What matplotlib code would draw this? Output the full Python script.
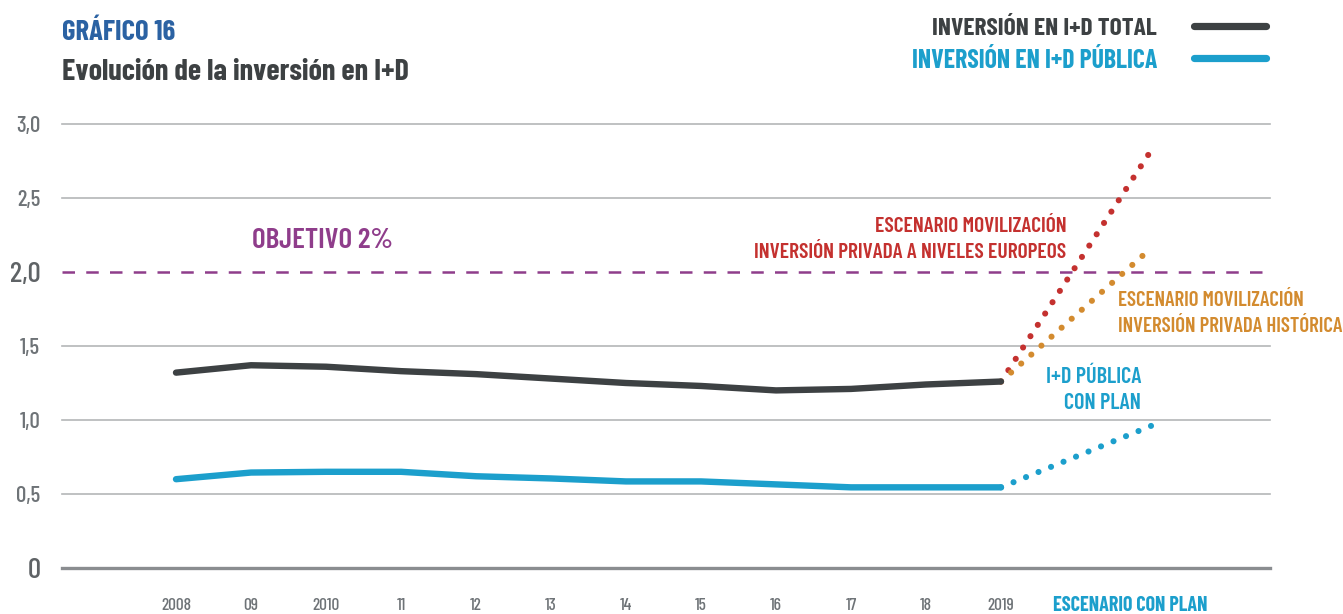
import matplotlib
matplotlib.use("Agg")
import matplotlib.pyplot as plt
from matplotlib.lines import Line2D

plt.rcParams['font.family'] = ['Barlow Condensed', 'DejaVu Sans']

years = [2008, 2009, 2010, 2011, 2012, 2013, 2014, 2015, 2016, 2017, 2018, 2019]
year_labels = ["2008", "09", "2010", "11", "12", "13", "14", "15", "16", "17", "18", "2019"]
total = [1.32, 1.37, 1.36, 1.33, 1.31, 1.28, 1.25, 1.23, 1.20, 1.21, 1.24, 1.26]
publica = [0.60, 0.645, 0.65, 0.65, 0.62, 0.605, 0.585, 0.585, 0.565, 0.545, 0.545, 0.545]

scen_years = [2019, 2021]
scen_europeos = [1.26, 2.82]
scen_historica = [1.26, 2.16]
scen_publica = [0.545, 0.96]

objetivo = 2.0
yticks = [0, 0.5, 1.0, 1.5, 2.0, 2.5, 3.0]
ytick_labels = ["0", "0,5", "1,0", "1,5", "2,0", "2,5", "3,0"]

C_TOTAL = "#3d4143"
C_PUB = "#1c9fcc"
C_RED = "#c4312f"
C_ORANGE = "#d38b2f"
C_PURPLE = "#8f3d8b"
C_TITLE = "#2b62a3"
C_TICK = "#6e7377"

W, H = 1343, 614
fig = plt.figure(figsize=(W / 100, H / 100), dpi=100)
ax = fig.add_axes([62 / W, (H - 568) / H, (1270 - 62) / W, (568 - 124) / H])
ax.set_xlim(2008 - 114 / 75, 2008 + (1270 - 176) / 75)
ax.set_ylim(0, 3.0)
for s in ax.spines.values():
    s.set_visible(False)
ax.set_xticks([])
ax.set_yticks([])

# gridlines
for v in yticks:
    if v == 0:
        ax.axhline(v, color="#8a8d90", lw=2.4, zorder=1, clip_on=False)
    elif v == objetivo:
        ax.axhline(v, color=C_PURPLE, lw=1.8, linestyle=(0, (5, 4.5)), zorder=1)
    else:
        ax.axhline(v, color="#b4b6b8", lw=1.2, zorder=1, clip_on=False)

# y tick labels
for v, lab in zip(yticks, ytick_labels):
    big = v in (0, objetivo)
    ax.text(-0.018, v, lab, transform=ax.get_yaxis_transform(), ha="right", va="center_baseline",
            fontsize=21 if big else 16.5, fontweight="medium",
            color="#5f6366" if big else C_TICK)

# x tick labels
for yr, lab in zip(years, year_labels):
    ax.text(yr, -0.243, lab, ha="center", va="center_baseline", fontsize=12.5,
            fontweight="medium", color=C_TICK, clip_on=False)
ax.text(2020.72, -0.243, "ESCENARIO CON PLAN", ha="center", va="center_baseline", fontsize=14.5,
        fontweight="bold", color=C_PUB, clip_on=False)

# main lines
ax.plot(years, total, color=C_TOTAL, lw=4.6, solid_capstyle="round", zorder=4)
ax.plot(years, publica, color=C_PUB, lw=4.6, solid_capstyle="round", zorder=4)

# scenario dotted lines
dot = dict(lw=4.4, dash_capstyle="round", linestyle=(0, (0.01, 2.2)), zorder=3)
ax.plot(scen_years, scen_europeos, color=C_RED, **dot)
ax.plot(scen_years, scen_historica, color=C_ORANGE, **dot)
ax.plot(scen_years, scen_publica, color=C_PUB, **dot)

# annotations
def two_lines(x, y, lines, ha, color, size=15.5, gap=0.176):
    ax.text(x, y + gap / 2, lines[0], ha=ha, va="center_baseline", fontsize=size,
            fontweight="semibold", color=color)
    ax.text(x, y - gap / 2, lines[1], ha=ha, va="center_baseline", fontsize=size,
            fontweight="semibold", color=color)

ax.text(2009.95, 2.23, "OBJETIVO 2%", ha="center", va="center_baseline", fontsize=21,
        fontweight="semibold", color=C_PURPLE)
two_lines(2019.87, 2.236, ["ESCENARIO MOVILIZACIÓN", "INVERSIÓN PRIVADA A NIVELES EUROPEOS"],
          "right", C_RED)
two_lines(2020.56, 1.736, ["ESCENARIO MOVILIZACIÓN", "INVERSIÓN PRIVADA HISTÓRICA"],
          "left", C_ORANGE, size=15)
two_lines(2020.87, 1.216, ["I+D PÚBLICA", "CON PLAN"], "right", C_PUB, size=16)

# titles
fig.text(62 / W, 1 - 30 / H, "GRÁFICO 16", ha="left", va="center_baseline", fontsize=20.7,
         fontweight="bold", color=C_TITLE)
fig.text(62 / W, 1 - 69 / H, "Evolución de la inversión en I+D", ha="left", va="center_baseline",
         fontsize=21.8, fontweight="bold", color=C_TOTAL)

# legend
fig.text(1157 / W, 1 - 26 / H, "INVERSIÓN EN I+D TOTAL", ha="right", va="center_baseline",
         fontsize=18.3, fontweight="bold", color=C_TOTAL)
fig.text(1157 / W, 1 - 58 / H, "INVERSIÓN EN I+D PÚBLICA", ha="right", va="center_baseline",
         fontsize=18.6, fontweight="bold", color=C_PUB)
fig.add_artist(Line2D([1194 / W, 1266 / W], [1 - 26 / H, 1 - 26 / H], color=C_TOTAL, lw=5.2,
                      solid_capstyle="round"))
fig.add_artist(Line2D([1194 / W, 1266 / W], [1 - 58 / H, 1 - 58 / H], color=C_PUB, lw=5.2,
                      solid_capstyle="round"))

fig.savefig("out.png", dpi=100)
